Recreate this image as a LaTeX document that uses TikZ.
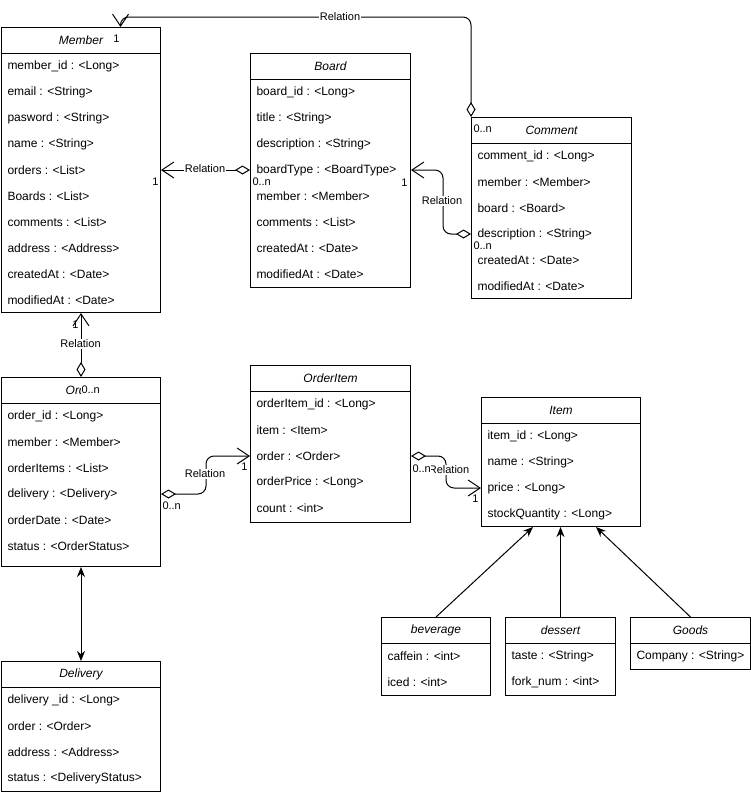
\documentclass[tikz,border=0pt]{standalone}
\usepackage{fontspec}
\setmainfont{Liberation Sans}
\usetikzlibrary{arrows.meta}

\begin{document}
\begin{tikzpicture}[x=1pt,y=-1pt,line width=1pt,
    box/.style={draw, anchor=north west, inner sep=0pt},
    head/.style={draw, anchor=north west, inner sep=0pt, minimum height=26pt,
      font=\fontsize{12}{14}\selectfont\itshape},
    attr/.style={anchor=west, inner sep=0pt, font=\fontsize{12}{14}\selectfont},
    rel/.style={fill=white, inner sep=1pt, font=\fontsize{11}{13}\selectfont},
    mult/.style={inner sep=0pt, font=\fontsize{11}{13}\selectfont},
    assoc/.style={{Diamond[open,length=15pt,width=9pt]}-{Straight Barb[length=12pt,width=16pt]},
      rounded corners=8pt},
    inherit/.style={-{Stealth[length=10pt,width=8pt]}}]
  \useasboundingbox (0,0) rectangle (751,795);

  % Member
  \node[box, minimum width=159pt, minimum height=285pt] (member) at (1,27) {};
  \node[head, minimum width=159pt] (member-h) at (1,27) {Member};
  \foreach \txt [count=\i] in {member\_id : <Long>, email : <String>, pasword : <String>,
      name : <String>, orders : <List>, Boards : <List>, comments : <List>,
      address : <Address>, createdAt : <Date>, modifiedAt : <Date>}
    \node[attr] (member-\i) at (7,40+26*\i) {\txt};

  % Board
  \node[box, minimum width=160pt, minimum height=234pt] (board) at (250,53) {};
  \node[head, minimum width=160pt] (board-h) at (250,53) {Board};
  \foreach \txt [count=\i] in {board\_id : <Long>, title : <String>, description : <String>,
      boardType : <BoardType>, member : <Member>, comments : <List>,
      createdAt : <Date>, modifiedAt : <Date>}
    \node[attr] (board-\i) at (256,66+26*\i) {\txt};

  % Comment
  \node[box, minimum width=160pt, minimum height=181pt] (comment) at (471,117) {};
  \node[head, minimum width=160pt] (comment-h) at (471,117) {Comment};
  \foreach \txt [count=\i] in {comment\_id : <Long>, member : <Member>, board : <Board>,
      description : <String>, createdAt : <Date>, modifiedAt : <Date>}
    \node[attr] (comment-\i) at (477,130+26*\i) {\txt};

  % Order
  \node[box, minimum width=159pt, minimum height=189pt] (order) at (1,377) {};
  \node[head, minimum width=159pt] (order-h) at (1,377) {Order};
  \foreach \txt [count=\i] in {order\_id : <Long>, member : <Member>, orderItems : <List>,
      delivery : <Delivery>, orderDate : <Date>, status : <OrderStatus>}
    \node[attr] (order-\i) at (7,390+26*\i) {\txt};

  % OrderItem
  \node[box, minimum width=160pt, minimum height=157pt] (orderitem) at (250,365) {};
  \node[head, minimum width=160pt] (orderitem-h) at (250,365) {OrderItem};
  \foreach \txt [count=\i] in {orderItem\_id : <Long>, item : <Item>, order : <Order>,
      orderPrice : <Long>, count : <int>}
    \node[attr] (orderitem-\i) at (256,378+26*\i) {\txt};

  % Item
  \node[box, minimum width=159pt, minimum height=129pt] (item) at (481,397) {};
  \node[head, minimum width=159pt] (item-h) at (481,397) {Item};
  \foreach \txt [count=\i] in {item\_id : <Long>, name : <String>, price : <Long>,
      stockQuantity : <Long>}
    \node[attr] (item-\i) at (487,410+26*\i) {\txt};

  % beverage, dessert, Goods
  \node[box, minimum width=109pt, minimum height=78pt] (beverage) at (381,617) {};
  \node[head, minimum width=109pt] (beverage-h) at (381,617) {beverage};
  \foreach \txt [count=\i] in {caffein : <int>, iced : <int>}
    \node[attr] (beverage-\i) at (387,630+26*\i) {\txt};
  \node[box, minimum width=110pt, minimum height=78pt] (dessert) at (505,617) {};
  \node[head, minimum width=110pt] (dessert-h) at (505,617) {dessert};
  \foreach \txt [count=\i] in {taste : <String>, fork\_num : <int>}
    \node[attr] (dessert-\i) at (511,630+26*\i) {\txt};
  \node[box, minimum width=120pt, minimum height=52pt] (goods) at (630,617) {};
  \node[head, minimum width=120pt] (goods-h) at (630,617) {Goods};
  \node[attr] (goods-1) at (636,656) {Company : <String>};

  % Delivery
  \node[box, minimum width=159pt, minimum height=130pt] (delivery) at (1,661) {};
  \node[head, minimum width=159pt] (delivery-h) at (1,661) {Delivery};
  \foreach \txt [count=\i] in {delivery \_id : <Long>, order : <Order>, address : <Address>,
      status : <DeliveryStatus>}
    \node[attr] (delivery-\i) at (7,674+26*\i) {\txt};

  % comment -> member
  \coordinate (mtop) at ([xshift=39.5pt]member.north);
  \draw[assoc] (comment.north west) |- ([yshift=10pt]mtop) -- (mtop);
  \node[rel] (rel-cm) at (340,17) {Relation};
  \node[mult, anchor=west] (m-cm1) at (473,129) {0..n};
  \node[mult, anchor=east] (m-cm2) at (120,39) {1};

  % board -> member
  \draw[assoc] (board-4 -| board.west) -- (member-5 -| member.east);
  \node[rel] (rel-bm) at (205,169) {Relation};
  \node[mult, anchor=east] (m-bm1) at (159,182) {1};
  \node[mult, anchor=west] (m-bm2) at (252,182) {0..n};

  % comment -> board
  \draw[assoc] (comment-4 -| comment.west) -- ++(-28,0) |- (board-4 -| board.east);
  \node[rel] (rel-cb) at (442,201) {Relation};
  \node[mult, anchor=east] (m-cb1) at (408,183) {1};
  \node[mult, anchor=west] (m-cb2) at (473,246) {0..n};

  % order -> member
  \draw[assoc] (order.north) -- (member.south);
  \node[rel] (rel-om) at (80.5,344) {Relation};
  \node[mult, anchor=east] (m-om1) at (79,325) {1};
  \node[mult, anchor=west, fill=white, inner sep=1pt] (m-om2) at (80,390) {0..n};

  % order -> orderitem
  \draw[assoc] (order-4 -| order.east) -- ++(45,0) |- (orderitem-3 -| orderitem.west);
  \node[rel] (rel-oi) at (205,474) {Relation};
  \node[mult, anchor=west] (m-oi1) at (162,506) {0..n};
  \node[mult, anchor=east] (m-oi2) at (248,467) {1};

  % orderitem -> item
  \draw[assoc] (orderitem-3 -| orderitem.east) -- ++(35,0) |- (item-3 -| item.west);
  \node[rel] (rel-ii) at (449,470) {Relation};
  \node[mult, anchor=west, fill=white, inner sep=0pt] (m-ii1) at (412,469) {0..n};
  \node[mult, anchor=east] (m-ii2) at (479,499) {1};

  % subclasses of item
  \draw[inherit] (beverage.north) -- ([xshift=-28pt]item.south);
  \draw[inherit] (dessert.north) -- (dessert.north |- item.south);
  \draw[inherit] (goods.north) -- ([xshift=35pt]item.south);

  % order <-> delivery
  \draw[{Stealth[length=10pt,width=8pt]}-{Stealth[length=10pt,width=8pt]}] (order.south) -- (delivery.north);
\end{tikzpicture}
\end{document}
